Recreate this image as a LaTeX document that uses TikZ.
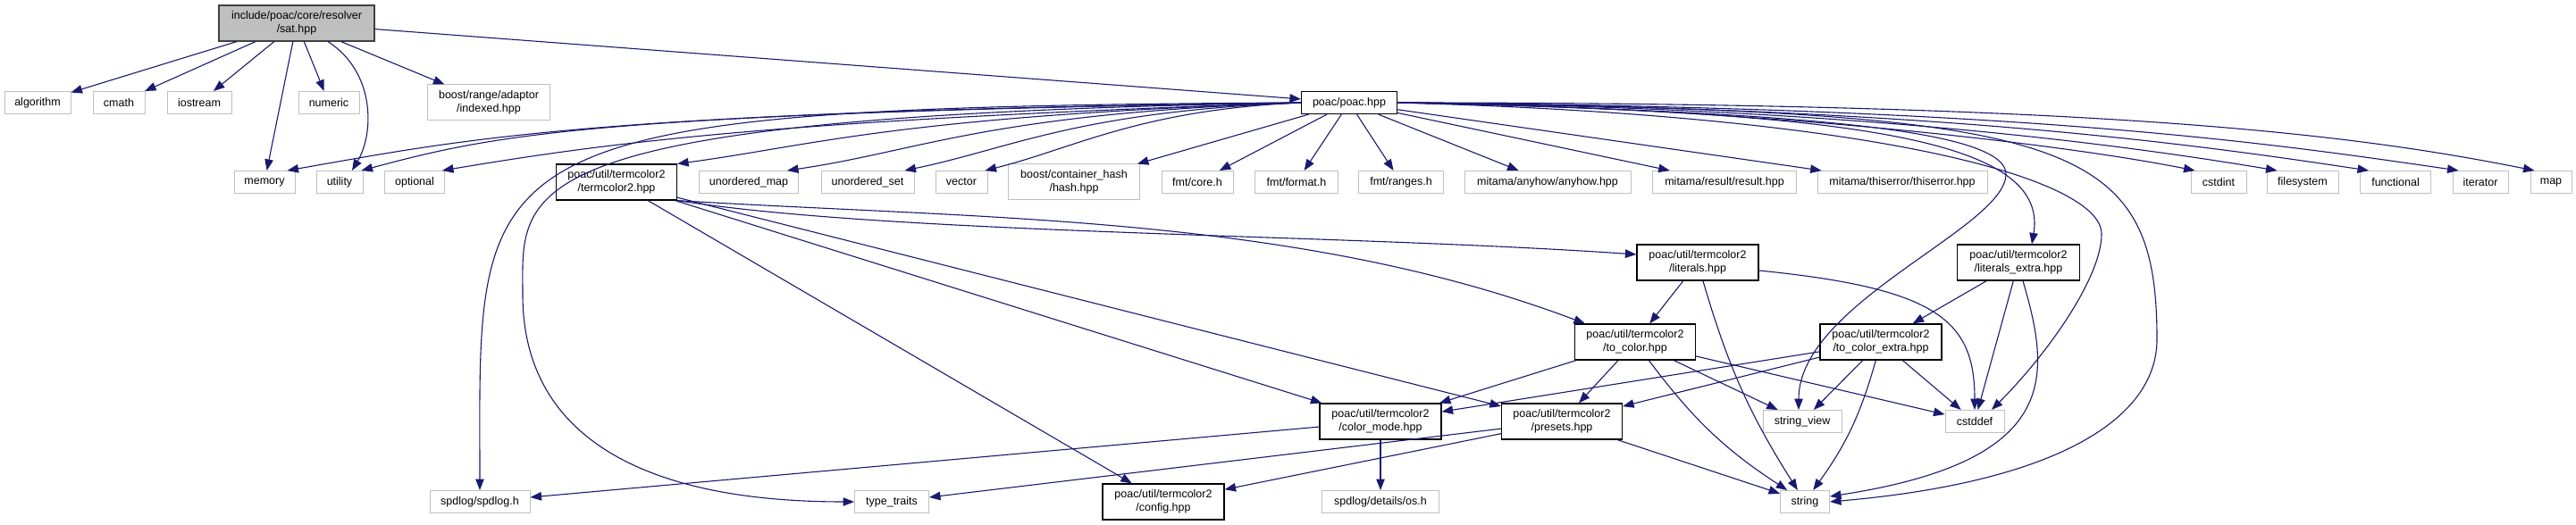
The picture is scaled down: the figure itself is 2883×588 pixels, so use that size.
\documentclass[tikz,border=0pt]{standalone}
\usepackage{fontspec}
\setmainfont{Liberation Sans}
\usepackage{tikz}
\usetikzlibrary{arrows.meta}
\definecolor{edgeblue}{RGB}{25,25,112}
\definecolor{boxgray}{RGB}{191,191,191}
\definecolor{rootline}{RGB}{64,64,64}

\begin{document}
\begin{tikzpicture}[x=1pt,y=-1pt,
  font=\fontsize{12.5}{15}\selectfont,
  box/.style={rectangle,inner sep=0pt,minimum height=25pt,align=center},
  ext/.style={box,draw=boxgray,line width=1pt},
  prj/.style={box,draw=black,line width=1.2pt,minimum height=40pt},
  dep/.style={edgeblue,line width=1.1pt,-{Triangle[length=12.5pt,width=9.5pt]}}]
  \useasboundingbox (0,0) rectangle (2883,588);
  \node[box,fill=boxgray,draw=rootline,line width=1.2pt,minimum width=174pt,minimum height=40pt] (root) at (332,26) {include/poac/core/resolver\\/sat.hpp};
  % first row
  \node[ext,minimum width=74pt] (algorithm) at (42,115) {algorithm};
  \node[ext,minimum width=58pt] (cmath) at (133,115) {cmath};
  \node[ext,minimum width=72pt] (iostream) at (223,115) {iostream};
  \node[ext,minimum width=68pt] (numeric) at (368,115) {numeric};
  \node[ext,minimum width=137pt,minimum height=40pt] (indexed) at (547,115) {boost/range/adaptor\\/indexed.hpp};
  \node[prj,minimum width=107pt,minimum height=25pt] (poac) at (1510,115) {poac/poac.hpp};
  % second row
  \node[ext,minimum width=68pt] (memory) at (296,204) {memory};
  \node[ext,minimum width=52pt] (utility) at (380,204) {utility};
  \node[ext,minimum width=67pt] (optional) at (464,204) {optional};
  \node[prj,minimum width=135pt] (termcolor) at (690,204) {poac/util/termcolor2\\/termcolor2.hpp};
  \node[ext,minimum width=111pt] (umap) at (838,204) {unordered\_map};
  \node[ext,minimum width=104pt] (uset) at (971,204) {unordered\_set};
  \node[ext,minimum width=58pt] (vector) at (1076,204) {vector};
  \node[ext,minimum width=147pt,minimum height=40pt] (hash) at (1202,204) {boost/container\_hash\\/hash.hpp};
  \node[ext,minimum width=80pt] (fmtcore) at (1340,204) {fmt/core.h};
  \node[ext,minimum width=93pt] (fmtformat) at (1451,204) {fmt/format.h};
  \node[ext,minimum width=95pt] (fmtranges) at (1568,204) {fmt/ranges.h};
  \node[ext,minimum width=186pt] (anyhow) at (1732,204) {mitama/anyhow/anyhow.hpp};
  \node[ext,minimum width=161pt] (result) at (1930,204) {mitama/result/result.hpp};
  \node[ext,minimum width=190pt] (thiserror) at (2129,204) {mitama/thiserror/thiserror.hpp};
  \node[ext,minimum width=62pt] (cstdint) at (2483,204) {cstdint};
  \node[ext,minimum width=80pt] (filesystem) at (2577,204) {filesystem};
  \node[ext,minimum width=79pt] (functional) at (2681,204) {functional};
  \node[ext,minimum width=62pt] (iterator) at (2776,204) {iterator};
  \node[ext,minimum width=46pt] (map) at (2855,204) {map};
  % termcolor2 headers
  \node[prj,minimum width=136pt] (literals) at (1900,294) {poac/util/termcolor2\\/literals.hpp};
  \node[prj,minimum width=137pt] (lextra) at (2259,294) {poac/util/termcolor2\\/literals\_extra.hpp};
  \node[prj,minimum width=135pt] (tocolor) at (1830,383) {poac/util/termcolor2\\/to\_color.hpp};
  \node[prj,minimum width=136pt] (tocextra) at (2105,383) {poac/util/termcolor2\\/to\_color\_extra.hpp};
  \node[prj,minimum width=136pt] (colormode) at (1545,472) {poac/util/termcolor2\\/color\_mode.hpp};
  \node[prj,minimum width=135pt] (presets) at (1748,472) {poac/util/termcolor2\\/presets.hpp};
  \node[ext,minimum width=88pt] (sview) at (2017,472) {string\_view};
  \node[ext,minimum width=66pt] (cstddef) at (2210,472) {cstddef};
  % bottom row
  \node[ext,minimum width=112pt] (spdlog) at (537,562) {spdlog/spdlog.h};
  \node[ext,minimum width=83pt] (ttraits) at (998,562) {type\_traits};
  \node[prj,minimum width=136pt] (config) at (1302,562) {poac/util/termcolor2\\/config.hpp};
  \node[ext,minimum width=131pt] (oshdr) at (1545,562) {spdlog/details/os.h};
  \node[ext,minimum width=55pt] (string) at (2020,562) {string};
  \coordinate (ttbend) at (585,330);
  \coordinate (svbend) at (2245,195);
  \coordinate (cdbend) at (2352,262);
  \coordinate (strbend) at (2414,380);

  % sat.hpp
  \draw[dep] (root) -- (algorithm);
  \draw[dep] (root) -- (cmath);
  \draw[dep] (root) -- (iostream);
  \draw[dep] (root) -- (memory);
  \draw[dep] (root) -- (numeric);
  \draw[dep] ([xshift=35pt]root.south) .. controls +(53,34) and +(25,-42) .. ([xshift=14pt]utility.north);
  \draw[dep] (root) -- (indexed);
  \draw[dep] (root) -- (poac);
  % poac.hpp
  \draw[dep] (poac.west) .. controls +(-800,10) and +(200,-35) .. ([xshift=-9pt]memory.north east);
  \draw[dep] (poac.west) .. controls +(-800,12) and +(150,-40) .. ([xshift=-2pt]utility.north east);
  \draw[dep] (poac.west) .. controls +(-600,20) and +(180,-30) .. ([xshift=-3pt]optional.north east);
  \draw[dep] (poac.west) .. controls +(-450,15) and +(150,-20) .. (termcolor.north east);
  \draw[dep] (poac.west) .. controls +(-350,12) and +(150,-22) .. ([xshift=-13pt]umap.north east);
  \draw[dep] (poac.west) .. controls +(-250,10) and +(120,-25) .. ([xshift=-11pt]uset.north east);
  \draw[dep] (poac.west) .. controls +(-180,8) and +(100,-25) .. ([xshift=-3pt]vector.north east);
  \draw[dep] (poac.west) .. controls +(-950,5) and +(0,-390) .. (spdlog.north);
  \draw[dep] (poac.west) .. controls +(-900,15) and +(0,-120) .. (ttbend) .. controls +(0,150) and +(-250,0) .. (ttraits.west);
  \draw[dep] (poac) -- (hash);
  \draw[dep] (poac) -- (fmtcore);
  \draw[dep] (poac) -- (fmtformat);
  \draw[dep] (poac) -- (fmtranges);
  \draw[dep] (poac) -- (anyhow);
  \draw[dep] (poac) -- (result);
  \draw[dep] (poac) -- (thiserror);
  \draw[dep] (poac.east) .. controls +(400,5) and +(-150,-30) .. ([xshift=5pt]cstdint.north west);
  \draw[dep] (poac.east) .. controls +(500,5) and +(-180,-30) .. ([xshift=12pt]filesystem.north west);
  \draw[dep] (poac.east) .. controls +(600,5) and +(-200,-30) .. ([xshift=10pt]functional.north west);
  \draw[dep] (poac.east) .. controls +(700,5) and +(-220,-32) .. ([xshift=7pt]iterator.north west);
  \draw[dep] (poac.east) .. controls +(800,0) and +(-200,-40) .. ([xshift=5pt]map.north west);
  \draw[dep] (poac.east) .. controls +(500,10) and +(20,-120) .. ([xshift=15pt]lextra.north);
  \draw[dep] (poac.east) .. controls +(450,10) and +(0,-50) .. (svbend) .. controls +(0,60) and +(0,-120) .. ([xshift=-4pt]sview.north);
  \draw[dep] (poac.east) .. controls +(550,15) and +(0,-60) .. (cdbend) .. controls +(0,50) and +(60,-60) .. ([xshift=19pt]cstddef.north);
  \draw[dep] (poac.east) .. controls +(750,10) and +(0,-230) .. (strbend) .. controls +(0,90) and +(252,-22) .. (string.east);
  % termcolor2.hpp
  \draw[dep] (termcolor.south east) .. controls +(242,38) and +(-332,-23) .. ([yshift=9pt]literals.west);
  \draw[dep] (termcolor.south east) .. controls +(342,21) and +(-323,-122) .. ([xshift=12pt]tocolor.north west);
  \draw[dep] (termcolor) -- (config);
  \draw[dep] (termcolor) -- (colormode);
  \draw[dep] (termcolor) -- (presets);
  % literals
  \draw[dep] (literals) -- (tocolor);
  \draw[dep] (literals) to[bend right=8] (string);
  \draw[dep] ([yshift=-9pt]literals.east) .. controls +(200,20) and +(0,-100) .. (cstddef.north);
  \draw[dep] (lextra) -- (tocextra);
  \draw[dep] (lextra) -- (cstddef);
  \draw[dep] ([xshift=5pt]lextra.south) .. controls +(31,106) and +(260,-40) .. ([yshift=6pt]string.east);
  % to_color
  \draw[dep] (tocolor) -- (colormode);
  \draw[dep] (tocolor) -- (presets);
  \draw[dep] (tocolor) -- (sview);
  \draw[dep] (tocolor) -- (cstddef);
  \draw[dep] (tocolor) to[bend right=10] (string);
  \draw[dep] (tocextra) -- (colormode);
  \draw[dep] (tocextra) -- (presets);
  \draw[dep] (tocextra) -- (sview);
  \draw[dep] (tocextra) -- (cstddef);
  \draw[dep] (tocextra) to[bend left=10] (string);
  % color_mode, presets
  \draw[dep] (colormode) -- (spdlog);
  \draw[dep] (colormode) -- (oshdr);
  \draw[dep] (presets) -- (ttraits);
  \draw[dep] (presets) -- (config);
  \draw[dep] (presets) -- (string);
\end{tikzpicture}
\end{document}
